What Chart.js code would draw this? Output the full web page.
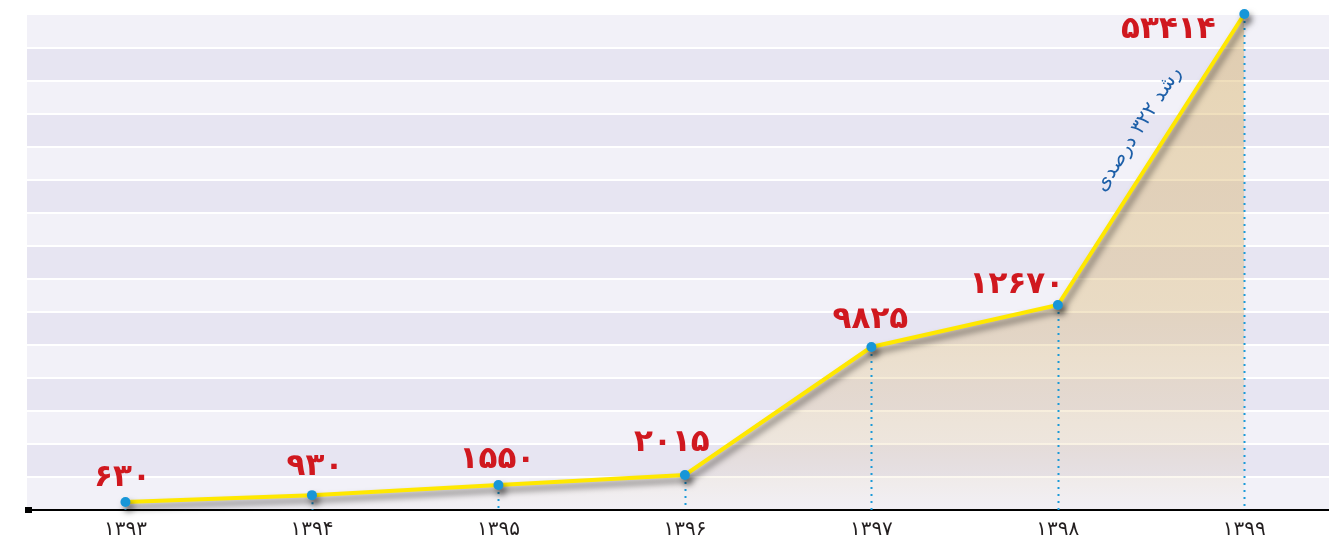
<!DOCTYPE html>
<html lang="fa">
<head>
  <meta charset="UTF-8" />
  <title>رشد ۱۳۹۳ تا ۱۳۹۹</title>
  <script src="https://cdn.jsdelivr.net/npm/chart.js"></script>
  <style>
    html, body { margin: 0; padding: 0; background: #fff; }
    #chartContainer { width: 1329px; height: 539px; position: relative; }
  </style>
</head>
<body>

  <div id="chartContainer">
    <canvas id="growthChart"></canvas>
  </div>

  <script>
    // values shown on the chart
    const years = [1393, 1394, 1395, 1396, 1397, 1398, 1399];
    const values = [630, 930, 1550, 2015, 9825, 12670, 53414];
    // heights of the points as drawn in the picture (in grid bands, 15 bands in all)
    const heights = [0.24, 0.45, 0.76, 1.06, 4.94, 6.21, 15.03];
    const growthNote = 'رشد ۳۲۲ درصدی';

    const faDigits = '۰۱۲۳۴۵۶۷۸۹';
    function toFa(n) {
      return String(n).replace(/\d/g, d => faDigits[d]);
    }

    const ctx = document.getElementById('growthChart').getContext('2d');
    const points = years.map((y, i) => ({ x: y, y: heights[i] }));

    // striped background, dotted drop lines, labels, note
    const decorPlugin = {
      id: 'decor',
      beforeDraw(chart) {
        const { ctx, chartArea } = chart;
        const ys = chart.scales.y;
        ctx.save();
        for (let i = 0; i < 15; i++) {
          const top = ys.getPixelForValue(i + 1);
          const bottom = ys.getPixelForValue(i);
          ctx.fillStyle = (i % 2 === 0) ? '#f2f1f8' : '#e7e5f2';
          const t = i === 14 ? top : top + 1;
          ctx.fillRect(chartArea.left, t, chartArea.right - chartArea.left, bottom - 1 - t);
        }
        ctx.restore();
      },
      beforeDatasetDraw(chart, args) {
        if (args.index !== 1) return;
        const { ctx } = chart;
        const ys = chart.scales.y;
        const base = ys.getPixelForValue(0);
        ctx.save();
        ctx.strokeStyle = '#1a9ad8';
        ctx.lineWidth = 2;
        ctx.setLineDash([2, 5]);
        args.meta.data.forEach(p => {
          ctx.beginPath();
          ctx.moveTo(Math.round(p.x) + 0.5, p.y);
          ctx.lineTo(Math.round(p.x) + 0.5, base);
          ctx.stroke();
        });
        ctx.restore();
        ctx.save();
        ctx.shadowColor = 'rgba(0,0,0,0.5)';
        ctx.shadowBlur = 6;
        ctx.shadowOffsetX = 3;
        ctx.shadowOffsetY = 5;
      },
      afterDatasetDraw(chart, args) {
        if (args.index !== 1) return;
        chart.ctx.restore();
      },
      afterDraw(chart, args, opts) {
        const { ctx, chartArea } = chart;
        const meta = chart.getDatasetMeta(1);
        const ys = chart.scales.y;

        // little square at the start of the axis
        ctx.save();
        ctx.fillStyle = '#000';
        ctx.fillRect(chartArea.left - 2, ys.getPixelForValue(0) - 3, 7, 6);
        ctx.restore();

        // value labels
        ctx.save();
        ctx.fillStyle = '#d0181f';
        ctx.font = 'bold 31px "DejaVu Sans", sans-serif';
        ctx.textAlign = 'center';
        ctx.textBaseline = 'middle';
        meta.data.forEach((p, i) => {
          const off = opts.labelOffsets[i];
          ctx.fillText(toFa(values[i]), p.x + off[0], p.y + off[1]);
        });
        ctx.restore();

        // growth note along the last segment
        const a = meta.data[5], b = meta.data[6];
        const t = 0.554;
        const px = a.x + (b.x - a.x) * t;
        const py = a.y + (b.y - a.y) * t;
        const ang = Math.atan2(b.y - a.y, b.x - a.x);
        ctx.save();
        ctx.translate(px, py);
        ctx.rotate(ang);
        ctx.fillStyle = '#1d5fa8';
        ctx.font = '20px "DejaVu Sans", sans-serif';
        ctx.textAlign = 'center';
        ctx.textBaseline = 'middle';
        ctx.fillText(growthNote, 0, -27);
        ctx.restore();
      }
    };

    const fillGradient = (context) => {
      const area = context.chart.chartArea;
      if (!area) return 'rgba(215,172,85,0.3)';
      const g = context.chart.ctx.createLinearGradient(0, area.top, 0, area.bottom);
      g.addColorStop(0, 'rgba(215,172,85,0.42)');
      g.addColorStop(0.58, 'rgba(215,172,85,0.32)');
      g.addColorStop(0.86, 'rgba(215,172,85,0.17)');
      g.addColorStop(1, 'rgba(215,172,85,0.02)');
      return g;
    };

    new Chart(ctx, {
      type: 'line',
      data: {
        datasets: [
          {
            data: points,
            order: 2,
            fill: 'origin',
            backgroundColor: fillGradient,
            borderWidth: 0,
            pointRadius: 0,
            tension: 0
          },
          {
            data: points,
            order: 1,
            fill: false,
            borderColor: '#ffe800',
            borderWidth: 4,
            pointRadius: 5,
            pointBackgroundColor: '#1796d8',
            pointBorderWidth: 0,
            tension: 0,
            clip: false
          }
        ]
      },
      options: {
        responsive: true,
        maintainAspectRatio: false,
        animation: false,
        layout: { autoPadding: false, padding: { left: 27, top: 15, right: 0, bottom: 0 } },
        plugins: {
          legend: { display: false },
          tooltip: { enabled: false },
          decor: {
            labelOffsets: [[-3, -24], [3, -28], [-1, -25], [-13, -32], [-1, -27], [-41, -20], [-76, 16]]
          }
        },
        scales: {
          x: {
            type: 'linear',
            min: 1392.472,
            max: 1399.454,
            grid: { display: false, drawTicks: false },
            border: { display: true, color: '#000', width: 2 },
            afterFit: s => { s.height = 29; s.paddingLeft = 0; s.paddingRight = 0; },
            afterBuildTicks: s => { s.ticks = years.map(v => ({ value: v })); },
            ticks: {
              padding: 8,
              autoSkip: false,
              maxRotation: 0,
              color: '#231f20',
              font: { family: '"DejaVu Sans", sans-serif', size: 20 },
              callback: v => toFa(v)
            }
          },
          y: {
            display: false,
            min: 0,
            max: 15
          }
        }
      },
      plugins: [decorPlugin]
    });
  </script>

</body>
</html>
